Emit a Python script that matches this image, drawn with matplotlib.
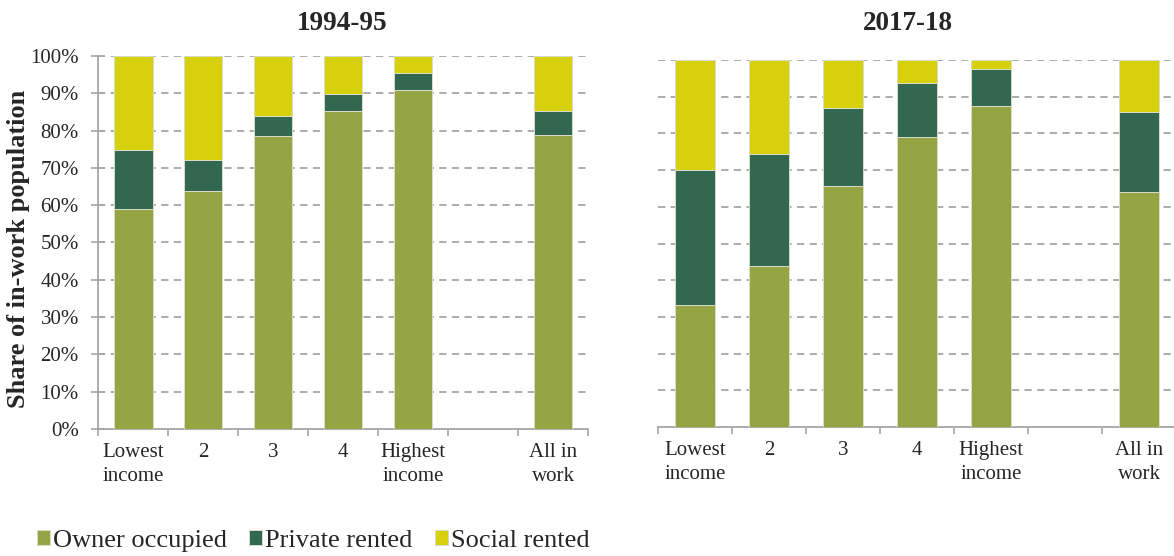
import numpy as np
import matplotlib.pyplot as plt
from matplotlib.ticker import PercentFormatter

plt.rcParams['font.family'] = ['Liberation Serif', 'DejaVu Serif']

# DATA (shares of in-work population, %)
categories = ['Lowest\nincome', '2', '3', '4', 'Highest\nincome', '', 'All in\nwork']
series = ['Owner occupied', 'Private rented', 'Social rented']

owner_9495 = [58.9, 63.8, 78.5, 85.2, 91.0, np.nan, 78.8]
private_9495 = [15.8, 8.2, 5.4, 4.5, 4.5, np.nan, 6.5]
social_9495 = [25.3, 28.0, 16.1, 10.3, 4.5, np.nan, 14.7]

owner_1718 = [33.2, 44.0, 65.6, 78.9, 87.4, np.nan, 64.0]
private_1718 = [36.9, 30.5, 21.3, 14.9, 10.2, np.nan, 21.7]
social_1718 = [29.9, 25.5, 13.1, 6.2, 2.4, np.nan, 14.3]

colors = ['#95A543', '#336850', '#D6D10C']
grey = '#A6A6A6'
txt = '#262626'

W, H = 1174, 556
fig = plt.figure(figsize=(W / 100, H / 100), dpi=100)

ax1 = fig.add_axes([98.3 / W, 1 - 429 / H, 489.7 / W, 373 / H])
ax2 = fig.add_axes([658 / W, 1 - 427 / H, 518 / W, 367 / H])


def draw(ax, owner, private, social, show_y):
    x = np.arange(len(categories))
    owner = np.array(owner)
    private = np.array(private)
    social = np.array(social)
    bottoms = [np.zeros(len(x)), owner, owner + private]
    for vals, bot, c, lab in zip([owner, private, social], bottoms, colors, series):
        ax.bar(x, vals, bottom=bot, width=0.55, color=c, edgecolor='#D9DCC8',
               linewidth=0.7, label=lab, zorder=3)
    ax.set_xlim(-0.5, len(categories) - 0.5)
    ax.set_ylim(0, 100)
    ax.set_yticks(np.arange(0, 101, 10))
    ax.yaxis.set_major_formatter(PercentFormatter(decimals=0))
    for y in range(10, 101, 10):
        ax.axhline(y, color=grey, lw=1.3, ls=(0, (4, 3)), zorder=1)
    ax.set_xticks(x)
    ax.set_xticklabels(categories, fontsize=15, color=txt, linespacing=1.4)
    ax.set_xticks(np.arange(-0.5, len(categories), 1), minor=True)
    ax.tick_params(axis='x', which='major', length=0, pad=10)
    ax.tick_params(axis='x', which='minor', length=5, width=1.2, color=grey, direction='out')
    for s in ['top', 'right']:
        ax.spines[s].set_visible(False)
    ax.spines['bottom'].set_color(grey)
    ax.spines['bottom'].set_linewidth(1.3)
    if show_y:
        ax.spines['left'].set_color(grey)
        ax.spines['left'].set_linewidth(1.3)
        ax.tick_params(axis='y', direction='inout', length=10, width=1.2, color=grey,
                       labelsize=15, labelcolor=txt, pad=9)
    else:
        ax.spines['left'].set_visible(False)
        ax.tick_params(axis='y', length=0, labelleft=False)


draw(ax1, owner_9495, private_9495, social_9495, True)
draw(ax2, owner_1718, private_1718, social_1718, False)

fig.text(342 / W, 1 - 23 / H, '1994-95', ha='center', va='center',
         fontsize=19.5, fontweight='bold', color=txt)
fig.text(908 / W, 1 - 23 / H, '2017-18', ha='center', va='center',
         fontsize=19.5, fontweight='bold', color=txt)
fig.text(19 / W, 1 - 249 / H, 'Share of in-work population', rotation=90,
         ha='center', va='center', fontsize=19, fontweight='bold', color=txt)

handles, labels = ax1.get_legend_handles_labels()
fig.legend(handles, labels, loc='center left', bbox_to_anchor=(37 / W, 1 - 541 / H),
           ncol=3, frameon=False, fontsize=19, handlelength=0.5, handleheight=0.5,
           handletextpad=0.1, columnspacing=0.85, labelcolor=txt,
           borderaxespad=0, borderpad=0)

fig.savefig('out.png', dpi=100)
